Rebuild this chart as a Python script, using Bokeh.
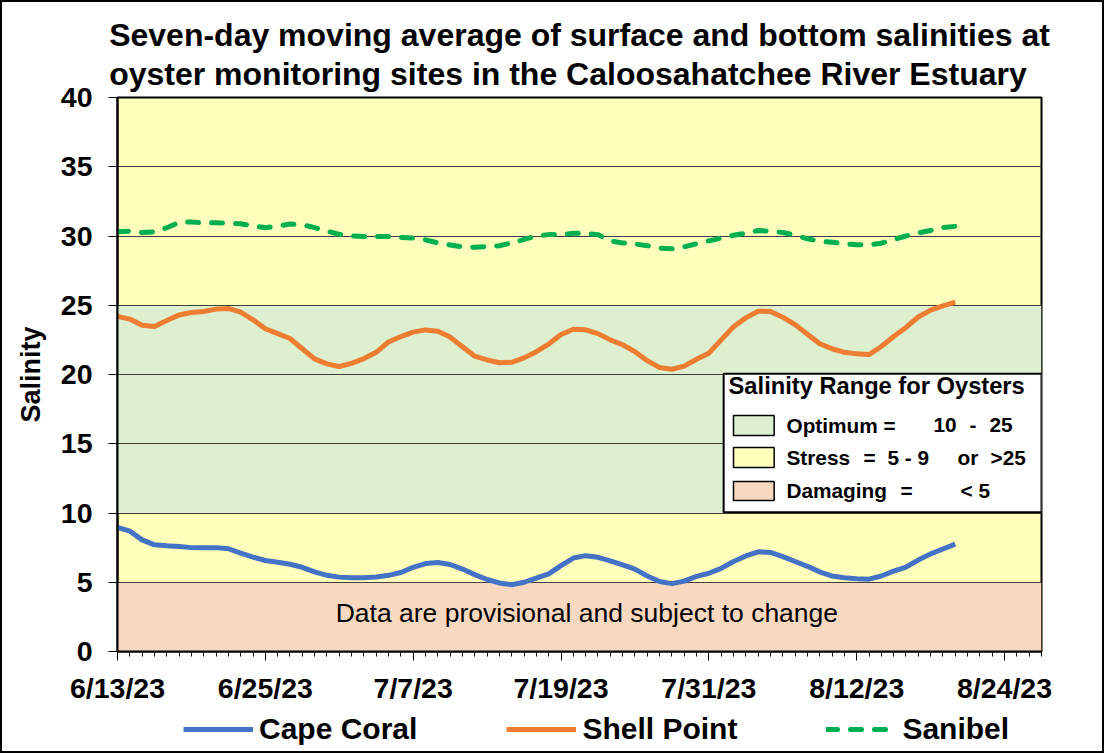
from bokeh.plotting import figure
from bokeh.models import FixedTicker, Title, Legend, LegendItem, Range1d
from bokeh.layouts import column
from bokeh.core.properties import value
from bokeh.embed import file_html
from bokeh.resources import INLINE
import pandas as pd

# ---------------- data ----------------
start_date = "6/13/23"
end_date = "8/27/23"
tick_labels = ["6/13/23", "6/25/23", "7/7/23", "7/19/23", "7/31/23", "8/12/23", "8/24/23"]
y_ticks = [0, 5, 10, 15, 20, 25, 30, 35, 40]

cape_coral = [8.97, 8.69, 8.06, 7.70, 7.63, 7.58, 7.50, 7.49, 7.50, 7.42,
              7.10, 6.82, 6.57, 6.45, 6.30, 6.08, 5.75, 5.50, 5.37, 5.32,
              5.32, 5.38, 5.50, 5.70, 6.08, 6.35, 6.43, 6.28, 5.95, 5.55,
              5.20, 4.95, 4.82, 5.00, 5.30, 5.60, 6.20, 6.75, 6.92, 6.80,
              6.55, 6.25, 5.95, 5.45, 5.05, 4.90, 5.08, 5.42, 5.65, 6.00,
              6.50, 6.90, 7.20, 7.15, 6.85, 6.50, 6.15, 5.75, 5.45, 5.32,
              5.25, 5.22, 5.45, 5.80, 6.10, 6.60, 7.05, 7.40, 7.75]
shell_point = [24.20, 24.00, 23.55, 23.47, 23.90, 24.30, 24.48, 24.55, 24.72, 24.77,
               24.50, 23.95, 23.30, 22.95, 22.60, 21.86, 21.13, 20.77, 20.58, 20.80,
               21.15, 21.60, 22.35, 22.74, 23.06, 23.22, 23.13, 22.70, 22.00, 21.32,
               21.05, 20.85, 20.88, 21.20, 21.65, 22.20, 22.89, 23.27, 23.23, 22.95,
               22.50, 22.15, 21.65, 21.00, 20.50, 20.38, 20.60, 21.10, 21.54, 22.50,
               23.45, 24.09, 24.57, 24.55, 24.14, 23.60, 22.90, 22.22, 21.86, 21.60,
               21.49, 21.44, 22.02, 22.74, 23.40, 24.15, 24.65, 24.96, 25.22]
sanibel = [30.30, 30.35, 30.25, 30.30, 30.60, 30.98, 31.02, 30.95, 30.95, 30.93,
           30.88, 30.75, 30.60, 30.72, 30.86, 30.82, 30.60, 30.35, 30.12, 30.00,
           29.96, 29.96, 29.96, 29.90, 29.85, 29.72, 29.50, 29.35, 29.22, 29.19,
           29.23, 29.30, 29.50, 29.75, 30.00, 30.10, 30.10, 30.20, 30.18, 30.10,
           29.65, 29.50, 29.42, 29.30, 29.12, 29.08, 29.22, 29.44, 29.65, 29.85,
           30.05, 30.20, 30.40, 30.35, 30.25, 30.06, 29.80, 29.63, 29.55, 29.44,
           29.36, 29.36, 29.48, 29.75, 30.00, 30.22, 30.40, 30.60, 30.70]

series_names = ["Cape Coral", "Shell Point", "Sanibel"]
series_colors = ["#4472C4", "#ED7D31", "#00B050"]
title_text = ("Seven-day moving average of surface and bottom salinities at\n"
              "oyster monitoring sites in the Caloosahatchee River Estuary")

# salinity zones for oysters (lower, upper)
zone_damaging = (0, 5)
zone_optimum = (10, 25)
zone_colors = {"optimum": "#DDEFCF", "stress": "#FFFFBB", "damaging": "#F9D8C0"}

# ---------------- helpers ----------------
FONT = value("Liberation Sans")
t0 = pd.to_datetime(start_date, format="%m/%d/%y")
def day_of(s):
    return int((pd.to_datetime(s, format="%m/%d/%y") - t0).days)

days = list(range(len(cape_coral)))
tick_days = [day_of(s) for s in tick_labels]
x_end = day_of(end_date)

W, H_MAIN, H_LEG = 1100, 705, 44
B_LEFT, B_RIGHT = 115, 61
p = figure(width=W, height=H_MAIN, output_backend="svg", toolbar_location=None,
           x_range=Range1d(0, x_end), y_range=Range1d(0, 40),
           min_border_left=B_LEFT, min_border_right=B_RIGHT, min_border_top=95,
           min_border_bottom=H_MAIN - 649, title=None)
p.background_fill_color = zone_colors["stress"]
p.border_fill_color = "white"
p.outline_line_color = "black"
p.outline_line_width = 2

# zone bands (below grid)
p.quad(left=0, right=x_end, bottom=zone_optimum[0], top=zone_optimum[1],
       fill_color=zone_colors["optimum"], line_color=None, level="image")
p.quad(left=0, right=x_end, bottom=zone_damaging[0], top=zone_damaging[1],
       fill_color=zone_colors["damaging"], line_color=None, level="image")

# grid
p.xgrid.visible = False
p.ygrid.ticker = FixedTicker(ticks=y_ticks)
p.ygrid.grid_line_color = "#404040"
p.ygrid.grid_line_width = 1

# axes
p.xaxis.ticker = FixedTicker(ticks=tick_days, minor_ticks=list(range(0, x_end + 1)))
p.xaxis.major_label_overrides = {d: s for d, s in zip(tick_days, tick_labels)}
p.yaxis.ticker = FixedTicker(ticks=y_ticks)
for ax in (p.xaxis[0], p.yaxis[0]):
    ax.axis_line_color = "black"
    ax.axis_line_width = 2
    ax.major_tick_line_color = "black"
    ax.major_tick_line_width = 1
    ax.minor_tick_line_color = "black"
    ax.major_tick_in = 0
    ax.major_tick_out = 9
    ax.minor_tick_in = 0
    ax.minor_tick_out = 5
    ax.major_label_text_font = "Liberation Sans"
    ax.major_label_text_font_style = "bold"
    ax.major_label_text_font_size = "28.5px"
    ax.major_label_text_color = "black"
p.yaxis.minor_tick_line_color = None
p.yaxis.major_label_standoff = 16
p.xaxis.major_label_standoff = 11
p.yaxis.axis_label = "Salinity"
p.yaxis.axis_label_text_font = "Liberation Sans"
p.yaxis.axis_label_text_font_style = "bold"
p.yaxis.axis_label_text_font_size = "27px"
p.yaxis.axis_label_text_color = "black"
p.yaxis.axis_label_standoff = 12

# title (two lines)
p.add_layout(Title(text=title_text, align="center", text_font="Liberation Sans",
                   text_font_style="bold", text_font_size="32px", text_color="black",
                   text_line_height=1.07, standoff=11), "above")

# series lines
r_cc = p.line(days, cape_coral, line_color=series_colors[0], line_width=5, line_join="round")
r_sp = p.line(days, shell_point, line_color=series_colors[1], line_width=5, line_join="round")
r_sb = p.line(days, sanibel, line_color=series_colors[2], line_width=5, line_dash="11 13",
              line_cap="round", line_join="round")

# provisional note
p.text(x=[38.1], y=[2.8], text=["Data are provisional and subject to change"],
       text_font=FONT, text_font_size="26.5px", text_align="center", text_baseline="middle",
       text_color="black")

# salinity range box
p.quad(left=49.2, right=x_end, bottom=10.05, top=20.05, fill_color="white",
       line_color="black", line_width=2)
p.text(x=[49.6], y=[19.15], text=["Salinity Range for Oysters"], text_font=FONT,
       text_font_style="bold", text_font_size="23.7px", text_baseline="middle")
sw_left, sw_right = 50.0, 53.3
p.quad(left=sw_left, right=sw_right, bottom=15.6, top=17.04,
       fill_color=zone_colors["optimum"], line_color="black", line_width=1.5)
p.quad(left=sw_left, right=sw_right, bottom=13.29, top=14.73,
       fill_color=zone_colors["stress"], line_color="black", line_width=1.5)
p.quad(left=sw_left, right=sw_right, bottom=10.9, top=12.27,
       fill_color=zone_colors["damaging"], line_color="black", line_width=1.5)
leg_x = [54.3, 66.23, 69.16, 70.78,
         54.3, 60.55, 62.5, 68.18, 70.86,
         54.3, 63.56, 68.43]
leg_y = [16.32] * 4 + [14.0] * 5 + [11.62] * 3
leg_t = ["Optimum =", "10", "-", "25",
         "Stress", "=", "5 - 9", "or", ">25",
         "Damaging", "=", "< 5"]
p.text(x=leg_x, y=leg_y, text=leg_t, text_font=FONT, text_font_style="bold",
       text_font_size="20.8px", text_baseline="middle", text_color="black")

# ---------------- series legend strip (frame aligned with main plot) ----------------
lg = figure(width=W, height=H_LEG, output_backend="svg", toolbar_location=None,
            x_range=Range1d(0, 1), y_range=Range1d(0, 1),
            min_border_left=B_LEFT, min_border_right=B_RIGHT,
            min_border_top=0, min_border_bottom=0, title=None)
lg.axis.visible = False
lg.grid.visible = False
lg.outline_line_color = None
lg.background_fill_color = "white"
lg.border_fill_color = "white"
nan = float("nan")
k_cc = lg.line(x=[nan], y=[nan], line_color=series_colors[0], line_width=5)
k_sp = lg.line(x=[nan], y=[nan], line_color=series_colors[1], line_width=5)
k_sb = lg.line(x=[nan], y=[nan], line_color=series_colors[2], line_width=5,
               line_dash="11 13", line_cap="round")
legend = Legend(items=[LegendItem(label=series_names[0], renderers=[k_cc]),
                       LegendItem(label=series_names[1], renderers=[k_sp]),
                       LegendItem(label=series_names[2], renderers=[k_sb])],
                orientation="horizontal", location=(64, 3),
                label_text_font="Liberation Sans", label_text_font_style="bold",
                label_text_font_size="30px", label_text_color="black",
                glyph_width=70, glyph_height=20,
                spacing=89, label_standoff=6, border_line_alpha=0,
                background_fill_alpha=0, padding=2, margin=0)
lg.add_layout(legend, "center")

layout = column(p, lg, spacing=0, styles={"border": "2px solid black"})
open("out.html", "w").write(file_html(layout, INLINE))
